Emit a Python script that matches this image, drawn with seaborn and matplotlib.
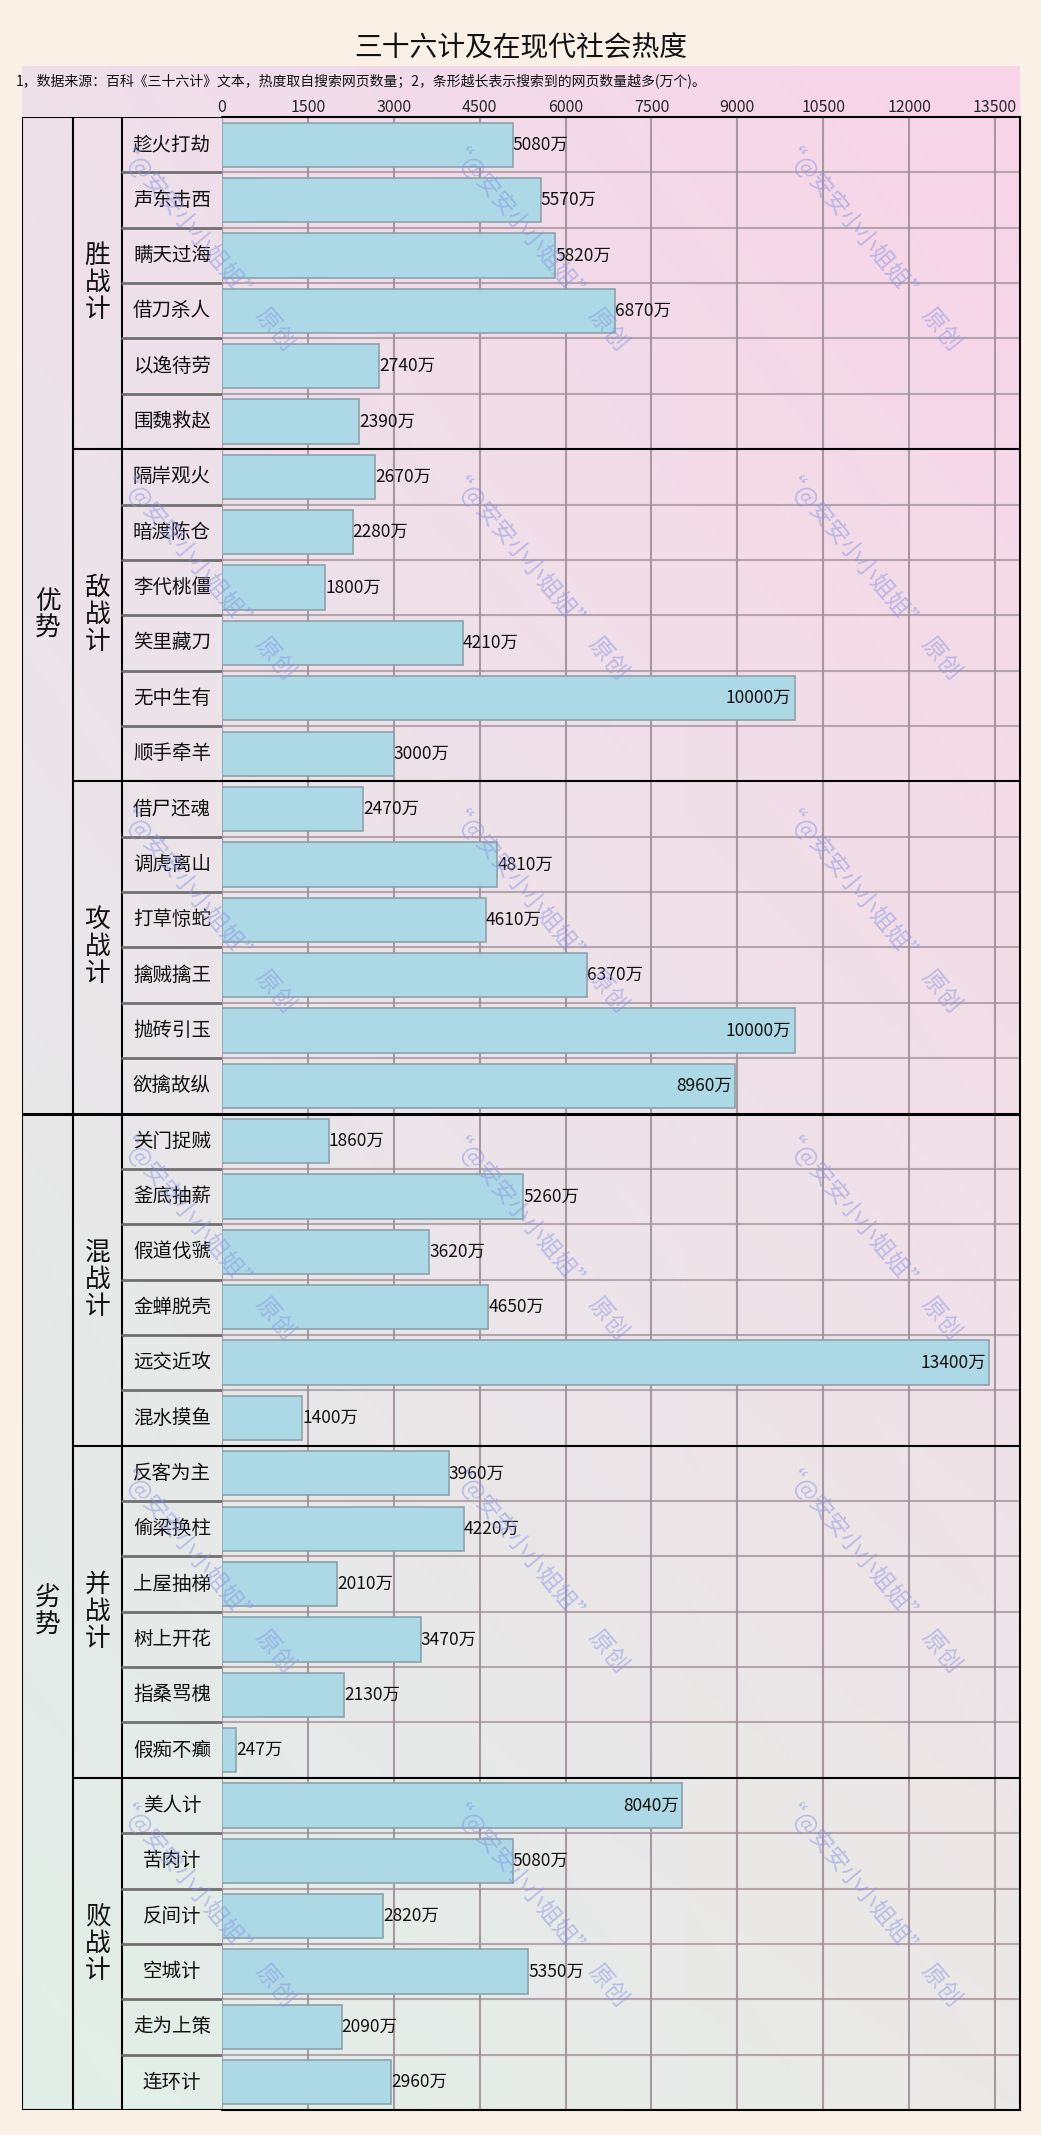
import numpy as np
import pandas as pd
import matplotlib.pyplot as plt
import seaborn as sns
from matplotlib.colors import to_rgb

# 数据
side_names = ['优势', '劣势']
group_names = ['胜战计', '敌战计', '攻战计', '混战计', '并战计', '败战计']
strategies = [
    '趁火打劫', '声东击西', '瞒天过海', '借刀杀人', '以逸待劳', '围魏救赵',
    '隔岸观火', '暗渡陈仓', '李代桃僵', '笑里藏刀', '无中生有', '顺手牵羊',
    '借尸还魂', '调虎离山', '打草惊蛇', '擒贼擒王', '抛砖引玉', '欲擒故纵',
    '关门捉贼', '釜底抽薪', '假道伐虢', '金蝉脱壳', '远交近攻', '混水摸鱼',
    '反客为主', '偷梁换柱', '上屋抽梯', '树上开花', '指桑骂槐', '假痴不癫',
    '美人计', '苦肉计', '反间计', '空城计', '走为上策', '连环计',
]
heat = [
    5080, 5570, 5820, 6870, 2740, 2390,
    2670, 2280, 1800, 4210, 10000, 3000,
    2470, 4810, 4610, 6370, 10000, 8960,
    1860, 5260, 3620, 4650, 13400, 1400,
    3960, 4220, 2010, 3470, 2130, 247,
    8040, 5080, 2820, 5350, 2090, 2960,
]
xticks = [0, 1500, 3000, 4500, 6000, 7500, 9000, 10500, 12000, 13500]

df = pd.DataFrame({'计策': strategies, '热度': heat})
n = len(strategies)
per_group = 6

sns.set_style('white')
plt.rcParams['font.family'] = ['Noto Sans CJK SC', 'DejaVu Sans']

W, H = 1041, 2135
fig = plt.figure(figsize=(W / 100, H / 100), dpi=100)
fig.patch.set_facecolor('#faf0e6')


def box(x0, y0, x1, y1):
    # 像素坐标 -> figure 比例
    return [x0 / W, 1 - y1 / H, (x1 - x0) / W, (y1 - y0) / H]


# 渐变背景
bg = fig.add_axes(box(22, 66, 1020, 2110), zorder=0)
tl, tr = np.array(to_rgb('#efe0ea')), np.array(to_rgb('#f8d4e7'))
bl, br = np.array(to_rgb('#e1efe8')), np.array(to_rgb('#ebe9e8'))
u = np.linspace(0, 1, 200)[None, :, None]
v = np.linspace(0, 1, 400)[:, None, None]
grad = (1 - v) * ((1 - u) * tl + u * tr) + v * ((1 - u) * bl + u * br)
bg.imshow(grad, aspect='auto', extent=[0, 1, 0, 1])
bg.axis('off')

# 条形图
ax = fig.add_axes(box(222, 117, 1020, 2110), zorder=2)
ax.set_facecolor('none')
sns.barplot(data=df, x='热度', y='计策', orient='h', color='#add8e6',
            saturation=1, edgecolor='#8ca2aa', linewidth=1.2, width=0.8, ax=ax)
ax.set_xlim(0, 13936)
ax.set_ylim(n - 0.5, -0.5)
ax.set_xticks(xticks)
ax.xaxis.tick_top()
ax.tick_params(axis='x', length=0, pad=1, labelsize=11.5)
ax.set_yticks([])
ax.set_xlabel('')
ax.set_ylabel('')
ax.grid(axis='x', color='#a0909a', linewidth=1.5, alpha=0.9)
ax.set_axisbelow(True)
for i in range(n - 1):
    if (i + 1) % per_group:
        ax.axhline(i + 0.5, color='#b4a4ac', linewidth=1.5, zorder=0)
for g in range(1, len(group_names)):
    lw = 2.2 if g == 3 else 1.5
    ax.axhline(g * per_group - 0.5, color='black', linewidth=lw, zorder=3)
for s in ['top', 'right', 'bottom']:
    ax.spines[s].set_color('black')
    ax.spines[s].set_linewidth(1.5)
ax.spines['left'].set_visible(False)

for i, val in enumerate(heat):
    if val > 7500:
        ax.text(val - 60, i, f'{val}万', ha='right', va='center', fontsize=12.5, color='#111111')
    else:
        ax.text(val, i, f'{val}万', ha='left', va='center', fontsize=12.5, color='#111111')

# 左侧表头列
lab = fig.add_axes(box(22, 117, 222, 2110), zorder=2)
lab.set_facecolor('none')
lab.set_xlim(0, 200)
lab.set_ylim(n - 0.5, -0.5)
lab.axis('off')
lab.plot([0, 0], [-0.5, n - 0.5], color='black', linewidth=1.5)
lab.plot([51, 51], [-0.5, n - 0.5], color='black', linewidth=1.5)
lab.plot([100, 100], [-0.5, n - 0.5], color='black', linewidth=1.5)
lab.plot([0, 200], [-0.5, -0.5], color='black', linewidth=1.5)
lab.plot([0, 200], [n - 0.5, n - 0.5], color='black', linewidth=1.5)
for i in range(n - 1):
    if (i + 1) % per_group:
        lab.plot([100, 200], [i + 0.5, i + 0.5], color='#707070', linewidth=2)
for g in range(1, len(group_names)):
    if g == 3:
        lab.plot([0, 200], [g * per_group - 0.5] * 2, color='black', linewidth=2.2)
    else:
        lab.plot([51, 200], [g * per_group - 0.5] * 2, color='black', linewidth=1.5)

for i, name in enumerate(strategies):
    lab.text(150, i, name, ha='center', va='center', fontsize=14, color='#111111')
for g, gname in enumerate(group_names):
    lab.text(75.5, g * per_group + 2.5, '\n'.join(gname), ha='center', va='center',
             fontsize=18.5, linespacing=1.05, color='#111111')
for s, sname in enumerate(side_names):
    lab.text(25.5, s * 18 + 8.5, '\n'.join(sname), ha='center', va='center',
             fontsize=18.5, linespacing=1.05, color='#111111')

# 标题与说明
fig.text(0.5, 1 - 48 / H, '三十六计及在现代社会热度', ha='center', va='center',
         fontsize=20, color='#111111')
fig.text(16 / W, 1 - 81 / H,
         '1，数据来源：百科《三十六计》文本，热度取自搜索网页数量；2，条形越长表示搜索到的网页数量越多(万个)。',
         ha='left', va='center', fontsize=10, color='#111111')

# 水印
for yc in [243, 572, 905, 1232, 1565, 1899]:
    for xc in [205, 538, 871]:
        fig.text(xc / W, 1 - yc / H, '“@安安小小姐姐”  原创', ha='center', va='center',
                 rotation=-50, rotation_mode='anchor', fontsize=17,
                 color='#8896e4', alpha=0.5, zorder=5)

fig.savefig('out.png', dpi=100, facecolor=fig.get_facecolor())
